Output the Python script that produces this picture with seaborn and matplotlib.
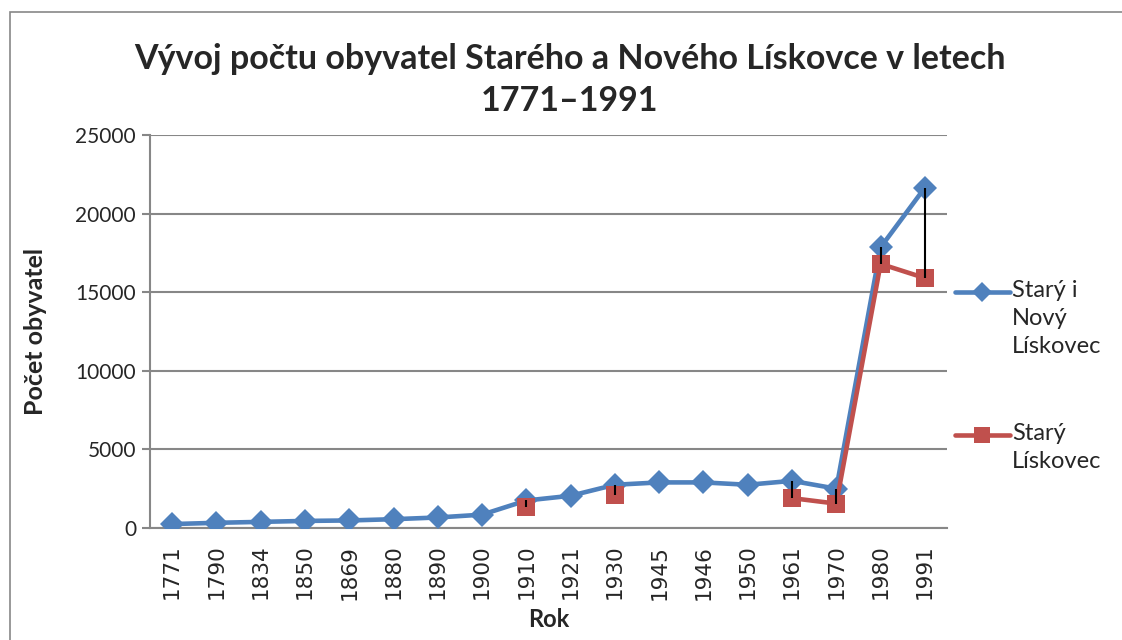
import matplotlib
matplotlib.use("Agg")
import matplotlib.pyplot as plt
import numpy as np
import pandas as pd
import seaborn as sns
from matplotlib.lines import Line2D
from matplotlib.patches import Rectangle

# Data
years = ["1771", "1790", "1834", "1850", "1869", "1880", "1890", "1900", "1910",
         "1921", "1930", "1945", "1946", "1950", "1961", "1970", "1980", "1991"]
total = [250, 330, 390, 450, 480, 560, 670, 850, 1750,
         2050, 2750, 2900, 2900, 2750, 3000, 2500, 17850, 21650]
stary = [None, None, None, None, None, None, None, None, 1320,
         None, 2100, None, None, None, 1900, 1550, 16800, 15900]

label_total = "Starý i\nNový\nLískovec"
label_stary = "Starý\nLískovec"

blue = "#4F81BD"
red = "#C0504D"
grid_col = "#878787"

df = pd.DataFrame({"pos": np.arange(len(years)), "year": years,
                   "total": total, "stary": stary})
df["stary"] = df["stary"].astype(float)
# segments for the red line: breaks where a value is missing
df["seg"] = df["stary"].isna().cumsum()
red_df = df.dropna(subset=["stary"])

sns.set_theme(style="white")
plt.rcParams["font.family"] = ["Lato", "DejaVu Sans"]

fig = plt.figure(figsize=(11.22, 6.4), dpi=100)
ax = fig.add_axes([150 / 1122, 112 / 640, 797 / 1122, 393 / 640])

# high-low lines
both = df.dropna(subset=["stary"])
ax.vlines(both["pos"], both[["total", "stary"]].min(axis=1),
          both[["total", "stary"]].max(axis=1), color="black", lw=1.5, zorder=5)

sns.lineplot(data=df, x="pos", y="total", ax=ax, color=blue, lw=3.3,
             marker="D", markersize=12.5, markeredgewidth=0, zorder=3)
sns.lineplot(data=red_df, x="pos", y="stary", units="seg", estimator=None, ax=ax,
             color=red, lw=3.3, marker="s", markersize=13.5, markeredgewidth=0, zorder=4)

ax.set_xlim(-0.5, len(years) - 0.5)
ax.set_ylim(0, 25000)
ax.set_yticks(range(0, 25001, 5000))
ax.set_yticklabels([str(v) for v in range(0, 25001, 5000)], fontsize=15)
ax.set_xticks(df["pos"])
ax.set_xticklabels(years, rotation=90, fontsize=15.5, family="DejaVu Sans")
ax.yaxis.grid(True, color=grid_col, lw=1.5)
ax.xaxis.grid(False)
for s in ["top", "right"]:
    ax.spines[s].set_visible(False)
for s in ["left", "bottom"]:
    ax.spines[s].set_color(grid_col)
    ax.spines[s].set_linewidth(1.5)
ax.tick_params(axis="y", which="major", direction="out", length=6, width=1.5,
               color=grid_col, left=True, pad=4)
ax.tick_params(axis="x", length=0, pad=12)

ax.set_xlabel("Rok", fontsize=17, fontweight="bold", labelpad=6)
ax.set_ylabel("Počet obyvatel", fontsize=18, fontweight="bold", labelpad=10)
ax.yaxis.set_label_coords(-103 / 797, 0.5)
fig.text(0.508, 1 - 80 / 640, "Vývoj počtu obyvatel Starého a Nového Lískovce v letech\n1771–1991",
         ha="center", va="center", fontsize=24.5, fontweight="bold", linespacing=1.38)

# legend drawn by hand so the key sits next to the first text line
legend_items = [(label_total, blue, "D", 10, 292), (label_stary, red, "s", 12, 435)]
for text, col, mk, ms, ypix in legend_items:
    y = 1 - ypix / 640
    fig.add_artist(Line2D([955 / 1122, 1010 / 1122], [y, y], color=col, lw=3.3,
                          transform=fig.transFigure))
    fig.add_artist(Line2D([982 / 1122], [y], color=col, marker=mk, markersize=ms,
                          markeredgewidth=0, transform=fig.transFigure))
    fig.text(1012 / 1122, y + 12 / 640, text, ha="left", va="top", fontsize=17,
             linespacing=1.4)

fig.patches.append(Rectangle((10 / 1122, -0.1), 1.2, 1 - 12 / 640 + 0.1,
                             transform=fig.transFigure, fill=False,
                             edgecolor=grid_col, lw=1.2))

fig.savefig("out.png", dpi=100)
